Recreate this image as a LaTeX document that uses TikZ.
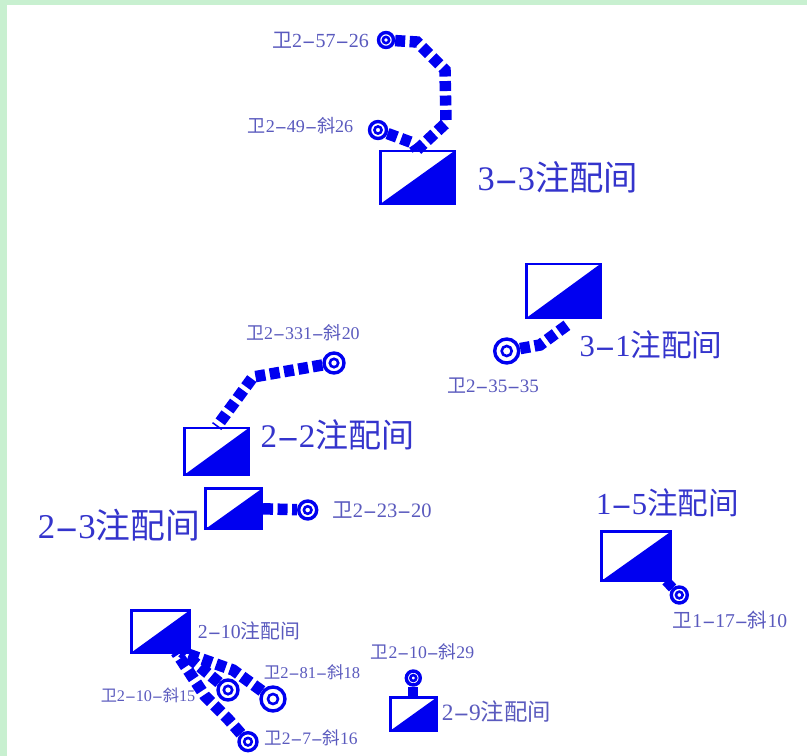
\documentclass[tikz,border=0pt]{standalone}
\usepackage{fontspec}
\setmainfont{Liberation Serif}
\newfontfamily\cjk{Noto Sans CJK SC}
\newcommand{\hy}{\scalebox{2}[1]{-}}
\newcommand{\wei}{{\cjk 卫}}
\newcommand{\xie}{{\cjk 斜}}
\newcommand{\zpj}{{\cjk 注配间}}
\definecolor{bl}{HTML}{0000F0}
\definecolor{lab}{HTML}{5A5ABE}
\definecolor{big}{HTML}{3434CC}
\definecolor{frame}{HTML}{C8F0D0}
\tikzset{
 room/.style 2 args={draw=bl,fill=white,line width=2.8pt,rectangle,inner sep=0,minimum width=#1pt,minimum height=#2pt,
   path picture={\fill[bl] (path picture bounding box.south west)--(path picture bounding box.north east)--(path picture bounding box.south east)--cycle;}},
 well/.style={circle,draw=bl,fill=white,line width=3.4pt,inner sep=0,minimum size=#1pt,
   path picture={\draw[bl,line width=2.6pt] (path picture bounding box.center) circle ({0.21*#1pt});}},
 pipe/.style={draw=bl,line width=11.5pt,dash pattern=on 10pt off 4.5pt,line join=miter},
 solidpipe/.style={draw=bl,line width=10pt},
 lbl/.style={text=lab,inner sep=0,font=\fontsize{#1}{#1}\selectfont},
 biglbl/.style={text=big,inner sep=0,font=\fontsize{#1}{#1}\selectfont}
}
\begin{document}
\begin{tikzpicture}[x=1pt,y=-1pt]
\useasboundingbox (0,0) rectangle (807,756);
\fill[frame] (0,0) rectangle (807,756);
\fill[white] (7,5) rectangle (807,756);
% rooms
\node[room={74}{53}] (r33) at (417.3,177.5) {};
\node[room={74}{54}] (r31) at (563.3,291) {};
\node[room={64}{46.5}] (r22) at (216.7,451.3) {};
\node[room={56}{40}] (r23) at (233.7,508.8) {};
\node[room={69}{49}] (r15) at (636.2,556.2) {};
\node[room={58}{42}] (r210) at (160.7,631.3) {};
\node[room={46}{33}] (r29) at (413.3,714.2) {};
% end coordinates
\coordinate (c1) at (417,42);
\coordinate (c2) at (445,70);
\coordinate (c3) at (446,123);
\coordinate (c4) at (413,143);
\coordinate (c5) at (253,377);
\coordinate (c6) at (540,345);
\coordinate (c7) at (570,323);
\coordinate (c8) at (666,581);
\coordinate (c9) at (182,652);
\coordinate (c10) at (233,670);
\coordinate (c11) at (205,696);
\coordinate (c12) at (228,719);
\coordinate (c13) at (176,652);
% wells
\node[well=15] (w1) at (386,40) {};
\node[well=17] (w2) at (378,130) {};
\node[well=20] (w3) at (334,363) {};
\node[well=18] (w4) at (307.7,510) {};
\node[well=24] (w5) at (506.7,351) {};
\node[well=16] (w6) at (679.3,595) {};
\node[well=24] (w7) at (273,699) {};
\node[well=20] (w8) at (228,690) {};
\node[well=18] (w9) at (248,741.7) {};
\node[well=14] (w10) at (413.3,678) {};
% connectors
\draw[pipe] (w1) -- (c1) -- (c2) -- (c3) -- (r33.north);
\draw[pipe] (w2) -- (c4) -- (r33.north);
\draw[pipe] (w3) -- (c5) -- (r22.north);
\draw[pipe] (r23.east) -- (w4);
\draw[pipe] (w5) -- (c6) -- (c7);
\draw[solidpipe] (c8) -- (w6);
\draw[solidpipe] (r29.north) -- (w10);
\draw[pipe] (w7) -- (c10) -- (c9);
\draw[pipe] (w8) -- (c9);
\draw[pipe] (w9) -- (c12) -- (c11) -- (c13);
% labels
\node[lbl=20] (t1) at (320.5,40) {\wei2\hy57\hy26};
\node[lbl=18.1] (t2) at (300.5,126) {\wei2\hy49\hy\xie26};
\node[lbl=17.9] (t3) at (303,333) {\wei2\hy331\hy\xie20};
\node[lbl=20.5] (t4) at (382,510) {\wei2\hy23\hy20};
\node[lbl=19] (t5) at (493,386) {\wei2\hy35\hy35};
\node[lbl=19.6] (t6) at (730,620) {\wei1\hy17\hy\xie10};
\node[lbl=16.5] (t7) at (312,672) {\wei2\hy81\hy\xie18};
\node[lbl=16.2] (t8) at (148,695) {\wei2\hy10\hy\xie15};
\node[lbl=17.5] (t9) at (311,738) {\wei2\hy7\hy\xie16};
\node[lbl=17.7] (t10) at (422.5,652) {\wei2\hy10\hy\xie29};
\node[biglbl=34.4] (b1) at (558,177) {3\hy3\zpj};
\node[biglbl=30.6] (b2) at (651,345) {3\hy1\zpj};
\node[biglbl=33] (b3) at (337.5,435) {2\hy2\zpj};
\node[biglbl=34.8] (b4) at (119,525) {2\hy3\zpj};
\node[biglbl=30.6] (b5) at (667.5,503) {1\hy5\zpj};
\node[lbl=19.8] (b6) at (249,631) {2\hy10\zpj};
\node[lbl=23.4] (b7) at (496.5,712) {2\hy9\zpj};
\end{tikzpicture}
\end{document}
